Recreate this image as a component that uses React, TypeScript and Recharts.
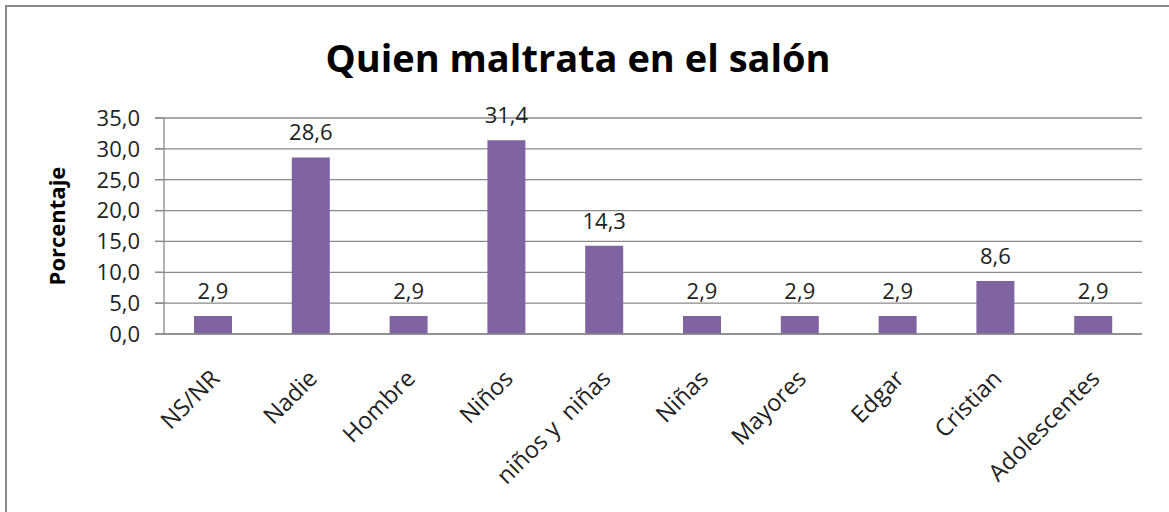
import { BarChart, Bar, XAxis, YAxis, CartesianGrid, LabelList } from "recharts"

const categories = ["NS/NR", "Nadie", "Hombre", "Niños", "niños y  niñas", "Niñas", "Mayores", "Edgar", "Cristian", "Adolescentes"]
const percentages = [2.9, 28.6, 2.9, 31.4, 14.3, 2.9, 2.9, 2.9, 8.6, 2.9]
const yTicks = [0, 5, 10, 15, 20, 25, 30, 35]

const data = categories.map((name, i) => ({ name, pct: percentages[i] }))

const FONT = "'Open Sans', 'Noto Sans', sans-serif"
const fmt = (v: number) => v.toFixed(1).replace(".", ",")

function RotatedTick({ x, y, payload }: any) {
  return (
    <g transform={`translate(${x + 8},${y + 46})`}>
      <text
        transform="rotate(-45)"
        textAnchor="end"
        fill="#222"
        fontSize={23.5}
        fontFamily={FONT}
        style={{ whiteSpace: "pre" }}
      >
        {payload.value}
      </text>
    </g>
  )
}

export default function App() {
  return (
    <div style={{ position: "absolute", left: 0, top: 0, width: 1169, height: 512, overflow: "hidden", background: "#fff" }}>
      <div
        style={{
          position: "absolute",
          left: 5,
          top: 5,
          width: 1220,
          height: 600,
          border: "2px solid #8a8a8a",
        }}
      />
      <div
        style={{
          position: "absolute",
          left: 0,
          width: 1156,
          top: 32,
          textAlign: "center",
          fontFamily: FONT,
          fontWeight: 700,
          fontSize: 38,
          color: "#000",
          lineHeight: "50px",
        }}
      >
        Quien maltrata en el salón
      </div>
      <div style={{ position: "absolute", left: 0, top: 0 }}>
        <BarChart width={1169} height={512} data={data} margin={{ top: 118, right: 27, bottom: 0, left: 0 }}>
          <CartesianGrid horizontal vertical={false} stroke="#8a8a8a" strokeWidth={1.3} x={155} width={987} />
          <XAxis
            dataKey="name"
            height={178}
            interval={0}
            tickLine={false}
            tickSize={0}
            tickMargin={0}
            axisLine={{ stroke: "#8a8a8a", strokeWidth: 1.3 }}
            tick={<RotatedTick />}
          />
          <YAxis
            width={164}
            domain={[0, 35]}
            ticks={yTicks}
            interval={0}
            tickSize={9}
            tickMargin={15}
            tickFormatter={fmt}
            axisLine={{ stroke: "#8a8a8a", strokeWidth: 1.3 }}
            tickLine={{ stroke: "#8a8a8a", strokeWidth: 1.3 }}
            tick={{ fill: "#222", fontSize: 22, fontFamily: FONT }}
            label={{
              value: "Porcentaje",
              angle: -90,
              position: "insideLeft",
              offset: 57,
              fontSize: 22,
              fontWeight: 700,
              fontFamily: FONT,
              fill: "#000",
              style: { fontFamily: FONT, fontWeight: 700, fontSize: 22, fill: "#000", textAnchor: "middle" },
            }}
          />
          <Bar dataKey="pct" fill="#8064A2" barSize={38} isAnimationActive={false}>
            <LabelList
              dataKey="pct"
              position="top"
              offset={17}
              formatter={(v: any) => fmt(Number(v))}
              style={{ fill: "#222", fontSize: 22, fontFamily: FONT }}
            />
          </Bar>
        </BarChart>
      </div>
    </div>
  )
}
